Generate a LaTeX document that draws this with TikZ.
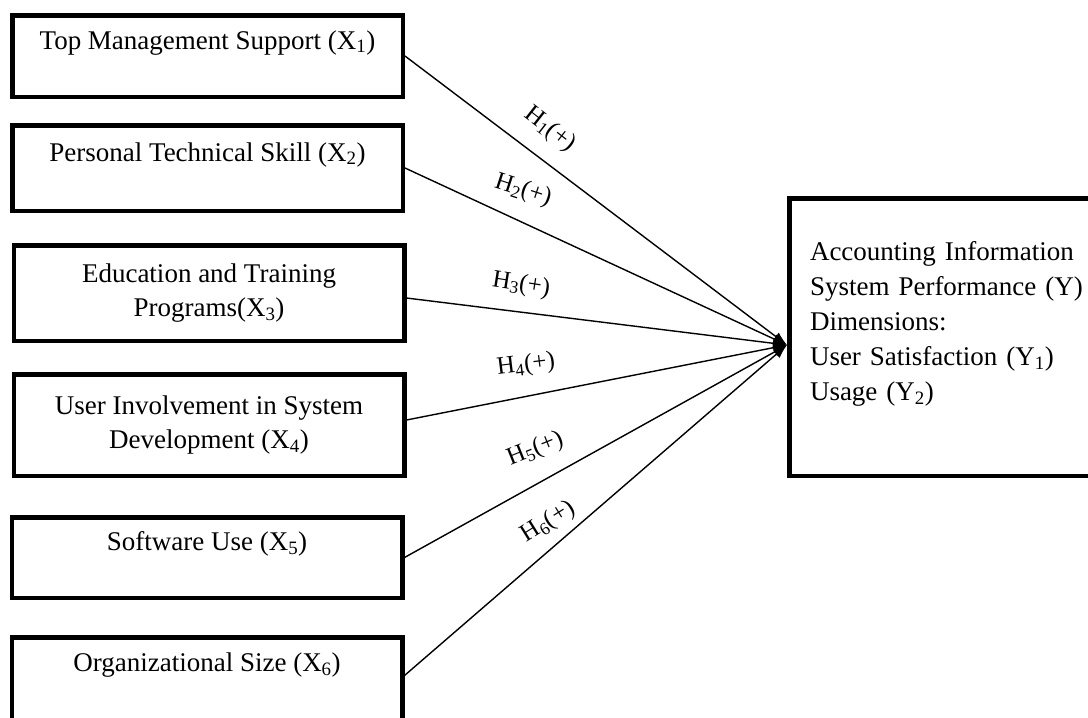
\documentclass[tikz,border=0pt]{standalone}
\usepackage{fontspec}
\setmainfont{Liberation Serif}
\usetikzlibrary{arrows.meta}
\begin{document}
\begin{tikzpicture}[x=1pt,y=-1pt,
  box/.style={draw, line width=4.5pt, rectangle, minimum width=390.5pt, inner sep=4pt, align=center, font=\fontsize{27}{34}\selectfont},
  onebox/.style={box, text height=20pt, text depth=34pt},
  ybox/.style={draw, line width=4.5pt, rectangle, minimum width=321.5pt, minimum height=277.5pt, text width=280pt, inner xsep=20.75pt, align=left, font=\fontsize{27}{35}\selectfont},
  conn/.style={line width=1.4pt, -{Latex[length=14pt,width=10pt]}},
  hlab/.style={font=\fontsize{25}{30}\selectfont, inner sep=0pt}]
\useasboundingbox (0,0) rectangle (1088,718);
\clip (0,0) rectangle (1088,718);
\node[onebox, minimum height=81.5pt] (b1) at (207.5,56) {Top Management Support (X\textsubscript{1})};
\node[onebox, minimum height=85.5pt] (b2) at (207.5,168) {Personal Technical Skill (X\textsubscript{2})};
\node[box, minimum height=95.5pt] (b3) at (209,293) {Education and Training\\Programs(X\textsubscript{3})};
\node[box, minimum height=101.5pt] (b4) at (209,425) {User Involvement in System\\Development (X\textsubscript{4})};
\node[onebox, minimum height=80.5pt] (b5) at (207,557.5) {Software Use (X\textsubscript{5})};
\node[onebox, minimum height=82.5pt] (b6) at (207,678.5) {Organizational Size (X\textsubscript{6})};
\node[ybox] (Y) at (950,337) {Accounting Information\\System Performance (Y)\\Dimensions:\\User Satisfaction (Y\textsubscript{1})\\Usage (Y\textsubscript{2})\par\vspace*{26pt}\hrule height 0pt width 0pt};
\coordinate (tip) at ([yshift=-8pt]Y.west);
\draw[conn] (b1.east) -- (tip) node[hlab, pos=.334, shift={(17.4,-23.2)}, rotate=-38] {H\textsubscript{1}(+)};
\draw[conn] (b2.east) -- (tip) node[hlab, pos=.277, shift={(12.2,-26.5)}, rotate=-18] {H\textsubscript{2}(+)};
\draw[conn] ([yshift=-5pt]b3.east) -- (tip) node[hlab, pos=.292, shift={(3.5,-26.7)}, rotate=-9] {H\textsubscript{3}(+)};
\draw[conn] ([yshift=5pt]b4.east) -- (tip) node[hlab, pos=.33, shift={(-6,-30.2)}, rotate=7] {H\textsubscript{4}(+)};
\draw[conn] (b5.east) -- (tip) node[hlab, pos=.381, shift={(-14.9,-27)}, rotate=22] {H\textsubscript{5}(+)};
\draw[conn] ([yshift=3pt]b6.east) -- (tip) node[hlab, pos=.413, shift={(-14.2,-16.7)}, rotate=32] {H\textsubscript{6}(+)};
\end{tikzpicture}
\end{document}
